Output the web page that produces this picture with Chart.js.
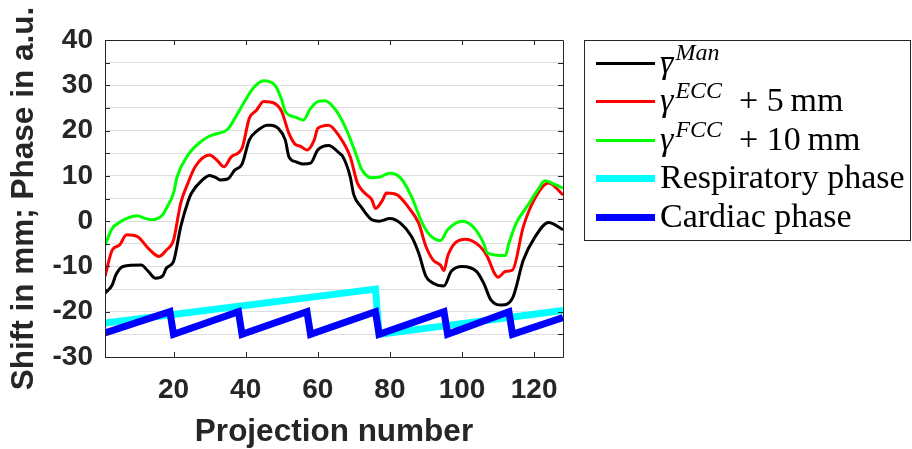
<!DOCTYPE html>
<html lang="en">
<head>
    <meta charset="UTF-8">
    <title>Shift and phase per projection</title>
    <script src="https://cdn.jsdelivr.net/npm/chart.js@4.4.1/dist/chart.umd.min.js"></script>
    <style>
        body { margin: 0; background: #fff; }
        #wrap { position: relative; width: 912px; height: 449px; }
        #legend {
            position: absolute; left: 584px; top: 40px; width: 327px; height: 201px;
            border: 1px solid #262626; box-sizing: border-box; background: #fff;
            font-family: "Liberation Serif", serif; font-size: 34px; color: #000;
        }
        .swatch { position: absolute; left: 11px; width: 59px; }
        .txt { position: absolute; left: 75px; white-space: nowrap; line-height: 1; }
        .txt i { font-style: italic; }
        .txt sup { font-size: 24px; font-style: italic; vertical-align: 0; position: relative; top: -13px; margin-left: 2px; }
        .bar { position: relative; }
        .bar::after { content: ''; position: absolute; left: 3px; right: 0; top: 14px; border-top: 2px solid #000; }
    </style>
</head>
<body>
<div id="wrap">
    <canvas id="myChart" width="912" height="449"></canvas>
    <div id="legend"></div>
</div>

<script>
    // projection numbers and values
    const manX = [1, 3, 4, 6, 11, 13, 15, 17, 18, 20, 22, 24, 25, 28, 30, 32, 33, 35, 37, 39, 41, 43, 46, 47, 49, 51, 52, 54, 56, 58, 60, 63, 66, 67, 69, 70, 72, 75, 77, 80, 83, 86, 88, 90, 92, 95, 97, 100, 104, 106, 108, 111, 114, 117, 120, 124, 128];
    const manY = [-15.9, -14.1, -11.9, -10.0, -9.7, -11.1, -12.6, -12.1, -10.4, -8.9, -1.2, 4.3, 6.2, 9.1, 10.1, 9.5, 9.1, 9.3, 11.3, 12.6, 17.9, 19.8, 21.2, 21.2, 20.5, 17.9, 14.2, 13.1, 12.6, 12.8, 15.7, 16.7, 15.0, 14.2, 9.8, 5.8, 3.2, 0.3, 0.0, 0.6, -0.5, -3.4, -7.1, -12.2, -13.7, -14.3, -11.1, -10.0, -11.1, -13.7, -17.4, -18.5, -17.0, -8.6, -3.8, -0.3, -1.9];

    const eccX = [1, 3, 5, 7, 10, 13, 16, 18, 20, 22, 24, 26, 30, 32, 34, 36, 39, 41, 43, 45, 48, 50, 52, 54, 55, 57, 59, 60, 63, 66, 69, 71, 73, 75, 76, 78, 79, 82, 85, 88, 90, 92, 94, 95, 96, 98, 101, 105, 107, 109, 110, 112, 114, 117, 120, 124, 128];
    const eccY = [-12.2, -6.4, -5.3, -3.0, -3.4, -6.0, -7.8, -6.4, -4.2, 4.0, 8.4, 12.0, 14.6, 13.5, 12.0, 14.2, 16.1, 22.7, 24.5, 26.4, 26.0, 24.2, 19.4, 16.8, 16.6, 15.7, 17.9, 20.5, 21.2, 18.7, 14.2, 8.4, 6.2, 4.7, 2.8, 4.7, 6.2, 5.8, 3.2, -0.5, -5.6, -8.6, -9.7, -10.9, -7.8, -4.9, -4.0, -5.6, -7.8, -11.5, -12.4, -11.1, -10.8, -1.2, 4.7, 8.4, 5.8];

    const fccX = [1, 3, 5, 7, 10, 12, 14, 17, 18, 20, 21, 24, 27, 30, 32, 35, 37, 40, 42, 45, 48, 50, 51, 54, 56, 58, 60, 62, 65, 68, 71, 72, 75, 77, 80, 83, 86, 89, 91, 94, 96, 100, 103, 106, 107, 112, 113, 115, 118, 121, 123, 126, 128];
    const fccY = [-5.3, -1.6, -0.3, 0.6, 1.2, 0.6, 0.3, 1.4, 2.8, 6.2, 9.8, 14.6, 17.2, 18.8, 19.3, 20.3, 22.7, 26.8, 29.3, 31.0, 30.1, 26.8, 24.2, 22.9, 22.3, 24.9, 26.4, 26.6, 24.5, 20.1, 13.9, 11.7, 9.6, 9.7, 10.6, 9.5, 5.4, -0.5, -3.0, -4.3, -1.9, 0.0, -1.2, -4.9, -7.0, -7.6, -4.9, -0.5, 3.2, 6.9, 8.9, 8.0, 7.3];

    const respX = [1, 76, 77, 128];
    const respY = [-22.5, -15.0, -25.0, -19.7];

    const cardX = [1, 19, 20, 38, 39, 57, 58, 76, 77, 95, 96, 113, 114, 128];
    const cardY = [-24.7, -20, -25, -20, -25, -20, -25, -20, -25, -20, -25, -20, -25, -21.3];

    const xTicks = [20, 40, 60, 80, 100, 120];

    const pts = (xs, ys) => xs.map((x, i) => ({ x: x, y: ys[i] }));

    const labelFont = { family: 'Liberation Sans', size: 28, weight: 'bold' };
    const titleFont = { family: 'Liberation Sans', size: 31.5, weight: 'bold', lineHeight: 1 };

    // inward tick marks and the box round the plot
    const frame = {
        id: 'frame',
        afterDatasetsDraw(chart) {
            const { ctx, chartArea: a, scales: { x, y } } = chart;
            ctx.save();
            ctx.strokeStyle = '#262626';
            ctx.lineWidth = 1;
            ctx.beginPath();
            x.ticks.forEach(t => {
                const px = Math.round(x.getPixelForValue(t.value)) + 0.5;
                ctx.moveTo(px, a.bottom); ctx.lineTo(px, a.bottom - 5);
                ctx.moveTo(px, a.top); ctx.lineTo(px, a.top + 5);
            });
            y.ticks.forEach(t => {
                const py = Math.round(y.getPixelForValue(t.value)) + 0.5;
                ctx.moveTo(a.left, py); ctx.lineTo(a.left + 5, py);
                ctx.moveTo(a.right, py); ctx.lineTo(a.right - 5, py);
            });
            ctx.rect(Math.round(a.left) + 0.5, Math.round(a.top) + 0.5,
                     Math.round(a.right - a.left), Math.round(a.bottom - a.top));
            ctx.stroke();
            ctx.restore();
        }
    };

    const chart = new Chart('myChart', {
        type: 'line',
        data: {
            datasets: [{
                label: 'man', data: pts(manX, manY), borderColor: '#000000',
                borderWidth: 3, cubicInterpolationMode: 'monotone', order: 4
            }, {
                label: 'ecc', data: pts(eccX, eccY), borderColor: '#ff0000',
                borderWidth: 3, cubicInterpolationMode: 'monotone', order: 3
            }, {
                label: 'fcc', data: pts(fccX, fccY), borderColor: '#00ff00',
                borderWidth: 3, cubicInterpolationMode: 'monotone', order: 2
            }, {
                label: 'Respiratory phase', data: pts(respX, respY), borderColor: '#00ffff',
                borderWidth: 7, tension: 0, order: 1
            }, {
                label: 'Cardiac phase', data: pts(cardX, cardY), borderColor: '#0000ff',
                borderWidth: 7, tension: 0, order: 0
            }]
        },
        options: {
            responsive: false,
            animation: false,
            elements: { point: { radius: 0 } },
            layout: { padding: { left: 0, top: 40, right: 349, bottom: 0 } },
            plugins: { legend: { display: false }, tooltip: { enabled: false } },
            scales: {
                x: {
                    type: 'linear', min: 1, max: 128,
                    afterBuildTicks: s => { s.ticks = xTicks.map(v => ({ value: v })); },
                    afterFit: s => { s.height = 92; },
                    grid: { display: false, drawTicks: false },
                    border: { display: false },
                    ticks: { font: labelFont, color: '#262626', padding: 16, maxRotation: 0, autoSkip: false },
                    title: { display: true, text: 'Projection number', font: titleFont, color: '#262626',
                             padding: { top: 0, bottom: 1 } }
                },
                y: {
                    min: -30, max: 40,
                    afterFit: s => { s.width = 105; },
                    grid: { color: '#dedede', drawTicks: false },
                    border: { display: false },
                    ticks: { stepSize: 5, autoSkip: false, font: labelFont, color: '#262626', padding: 12,
                             callback: v => v % 10 === 0 ? v : '' },
                    title: { display: true, text: 'Shift in mm; Phase in a.u.', font: titleFont, color: '#262626',
                             padding: { top: 9, bottom: 0 } }
                }
            }
        },
        plugins: [frame]
    });

    // legend with super-scripted names, built from the datasets
    const legendText = [
        '<i class="bar">γ</i><sup>Man</sup>',
        '<i>γ</i><sup>ECC</sup>&ensp;+&nbsp;5&thinsp;mm',
        '<i>γ</i><sup>FCC</sup>&ensp;+&nbsp;10&thinsp;mm',
        'Respiratory phase',
        'Cardiac phase'
    ];
    const rowY = [22, 60, 99, 137, 176];
    const legend = document.getElementById('legend');
    chart.data.datasets.forEach((ds, i) => {
        const sw = document.createElement('div');
        sw.className = 'swatch';
        sw.style.top = (rowY[i] - ds.borderWidth / 2) + 'px';
        sw.style.height = ds.borderWidth + 'px';
        sw.style.background = ds.borderColor;
        legend.appendChild(sw);
        const tx = document.createElement('div');
        tx.className = 'txt';
        tx.style.top = (rowY[i] - 18) + 'px';
        tx.innerHTML = legendText[i];
        legend.appendChild(tx);
    });
</script>
</body>
</html>
